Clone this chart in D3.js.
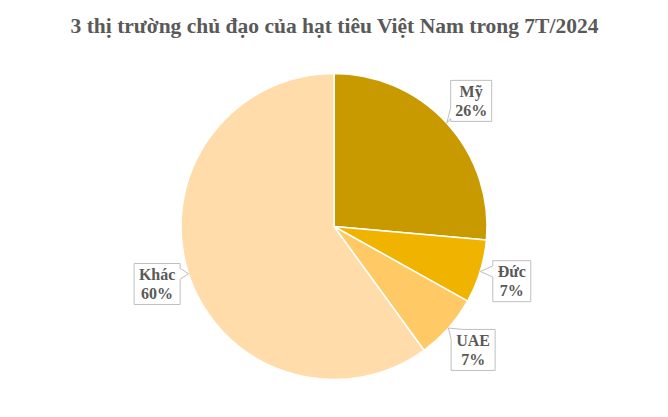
<!DOCTYPE html>
<html><head><meta charset="utf-8">
<script src="https://cdn.jsdelivr.net/npm/d3@7/dist/d3.min.js"></script>
<style>body{margin:0;background:#fff}svg{display:block}</style>
</head><body>
<script>
const categories = ["Mỹ", "Đức", "UAE", "Khác"];
const values = [26.4, 6.7, 6.9, 60.0];
const colors = ["#C99A00", "#F0B400", "#FFC966", "#FFDCAA"];
const title = "3 thị trường chủ đạo của hạt tiêu Việt Nam trong 7T/2024";

const W = 668, H = 417;
const cx = 334, cy = 226.5, R = 153;
const svg = d3.select("body").append("svg").attr("width", W).attr("height", H);

svg.append("text").attr("x", W/2 + 0.5).attr("y", 33).attr("text-anchor", "middle")
  .attr("font-family", "'Liberation Serif', 'Times New Roman', serif")
  .attr("font-weight", "bold").attr("font-size", 21.5).attr("fill", "#595959").text(title);

const data = categories.map((c, i) => ({ name: c, value: values[i], color: colors[i] }));
const total = d3.sum(values);
const pie = d3.pie().value(d => d.value).sort(null);
const arcs = pie(data);
const arc = d3.arc().innerRadius(0).outerRadius(R);
const g = svg.append("g").attr("transform", `translate(${cx},${cy})`);
g.selectAll("path").data(arcs).enter().append("path")
  .attr("d", arc).attr("fill", d => d.data.color)
  .attr("stroke", "#fff").attr("stroke-width", 1.5).attr("stroke-linejoin", "round");

// callout labels
const boxW = { "Mỹ": 41, "Đức": 38, "UAE": 44, "Khác": 46 };
const boxH = 41, labR = 186;
arcs.forEach(a => {
  const mid = (a.startAngle + a.endAngle) / 2;
  const tx = Math.sin(mid) * R, ty = -Math.cos(mid) * R;
  const bx = Math.sin(mid) * labR, by = -Math.cos(mid) * labR;
  const w = boxW[a.data.name];
  const x0 = bx - w/2, x1 = bx + w/2, y0 = by - boxH/2, y1 = by + boxH/2;
  const TL = [x0, y0], TR = [x1, y0], BR = [x1, y1], BL = [x0, y1];
  const tip = [tx, ty];
  let pts;
  const clampY = v => Math.max(y0 + 6, Math.min(y1 - 6, v));
  if (tx < x0 && ty >= y0 && ty <= y1) {
    const c = clampY(ty);
    pts = [TL, TR, BR, BL, [x0, c + 5.5], tip, [x0, c - 5.5]];
  } else if (tx > x1 && ty >= y0 && ty <= y1) {
    const c = clampY(ty);
    pts = [TL, TR, [x1, c - 5.5], tip, [x1, c + 5.5], BR, BL];
  } else if (tx < x0 && ty > y1) {
    pts = [TL, TR, BR, BL, [x0, y1 - 3], tip, [x0, y1 - 14]];
  } else if (tx < x0 && ty < y0) {
    pts = [[x0, y0 + 10], tip, [x0 + 12, y0], TR, BR, BL];
  } else if (tx > x1 && ty > y1) {
    pts = [TL, TR, [x1, y1 - 14], tip, [x1, y1 - 3], BR, BL];
  } else {
    pts = [TL, [x1 - 12, y0], tip, [x1, y0 + 10], BR, BL];
  }
  g.append("path").attr("d", d3.line()(pts) + "Z")
    .attr("fill", "#fff").attr("stroke", "#BFBFBF").attr("stroke-width", 1);
  const t = g.append("text").attr("text-anchor", "middle")
    .attr("font-family", "'Liberation Serif', 'Times New Roman', serif")
    .attr("font-weight", "bold").attr("font-size", 16).attr("fill", "#595959");
  t.append("tspan").attr("x", bx).attr("y", by - 4).text(a.data.name);
  t.append("tspan").attr("x", bx).attr("y", by + 15).text(Math.round(a.data.value / total * 100) + "%");
});
</script>
</body></html>
